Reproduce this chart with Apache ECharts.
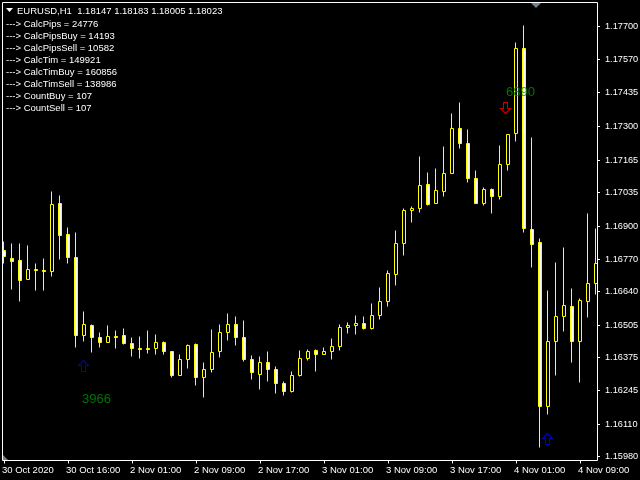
<!DOCTYPE html>
<html><head><meta charset="utf-8">
<style>html,body{margin:0;padding:0;background:#000}#c{width:640px;height:480px}</style>
<script src="https://cdn.jsdelivr.net/npm/echarts@6/dist/echarts.min.js"></script>
</head><body><div id="c"></div>
<script>
const headerText = "EURUSD,H1  1.18147 1.18183 1.18005 1.18023";
const infoLines = ["---> CalcPips = 24776","---> CalcPipsBuy = 14193","---> CalcPipsSell = 10582","---> CalcTim = 149921","---> CalcTimBuy = 160856","---> CalcTimSell = 138986","---> CountBuy = 107","---> CountSell = 107"];
const tickLabels = ["30 Oct 2020","30 Oct 16:00","2 Nov 01:00","2 Nov 09:00","2 Nov 17:00","3 Nov 01:00","3 Nov 09:00","3 Nov 17:00","4 Nov 01:00","4 Nov 09:00"];
const priceTicks = [1.17700,1.17570,1.17435,1.17300,1.17165,1.17035,1.16900,1.16770,1.16640,1.16505,1.16375,1.16245,1.16110,1.15980];
const opens = [1.16804,1.16772,1.16764,1.16688,1.16728,1.16724,1.16720,1.16992,1.16868,1.16776,1.16464,1.16504,1.16456,1.16436,1.16460,1.16464,1.16432,1.16412,1.16412,1.16412,1.16436,1.16400,1.16304,1.16368,1.16428,1.16296,1.16328,1.16400,1.16476,1.16508,1.16456,1.16368,1.16308,1.16356,1.16328,1.16272,1.16240,1.16304,1.16372,1.16404,1.16388,1.16400,1.16420,1.16496,1.16504,1.16512,1.16492,1.16544,1.16600,1.16708,1.16832,1.16964,1.16972,1.17068,1.16992,1.17040,1.17112,1.17292,1.17232,1.17092,1.16992,1.17048,1.17020,1.17148,1.17272,1.17612,1.16888,1.16836,1.16180,1.16440,1.16540,1.16580,1.16440,1.16600,1.16672];
const closes = [1.16780,1.16760,1.16684,1.16728,1.16724,1.16720,1.16988,1.16864,1.16776,1.16464,1.16508,1.16456,1.16436,1.16460,1.16456,1.16432,1.16412,1.16408,1.16408,1.16436,1.16400,1.16304,1.16368,1.16424,1.16296,1.16328,1.16396,1.16476,1.16508,1.16456,1.16368,1.16316,1.16356,1.16328,1.16272,1.16240,1.16304,1.16372,1.16400,1.16388,1.16400,1.16420,1.16496,1.16504,1.16512,1.16492,1.16544,1.16600,1.16712,1.16832,1.16964,1.16972,1.17064,1.16988,1.17044,1.17112,1.17292,1.17232,1.17092,1.16992,1.17048,1.17020,1.17148,1.17268,1.17612,1.16892,1.16828,1.16180,1.16440,1.16540,1.16584,1.16440,1.16604,1.16672,1.16752];
const lows = [1.16752,1.16648,1.16600,1.16688,1.16644,1.16644,1.16700,1.16768,1.16752,1.16416,1.16440,1.16396,1.16416,1.16436,1.16412,1.16428,1.16380,1.16372,1.16392,1.16388,1.16388,1.16296,1.16304,1.16332,1.16264,1.16216,1.16316,1.16376,1.16444,1.16424,1.16360,1.16288,1.16248,1.16280,1.16232,1.16224,1.16236,1.16300,1.16364,1.16320,1.16388,1.16368,1.16404,1.16472,1.16468,1.16488,1.16488,1.16528,1.16580,1.16664,1.16784,1.16916,1.16956,1.16984,1.16992,1.17020,1.17112,1.17212,1.17076,1.16992,1.16984,1.16952,1.17008,1.17124,1.17240,1.16876,1.16736,1.16016,1.16148,1.16304,1.16480,1.16356,1.16276,1.16536,1.16628];
const highs = [1.16840,1.16832,1.16832,1.16824,1.16752,1.16772,1.17040,1.17024,1.16896,1.16876,1.16560,1.16508,1.16476,1.16504,1.16484,1.16492,1.16456,1.16460,1.16484,1.16468,1.16440,1.16400,1.16388,1.16428,1.16432,1.16356,1.16488,1.16508,1.16552,1.16540,1.16524,1.16384,1.16380,1.16400,1.16340,1.16280,1.16320,1.16404,1.16408,1.16408,1.16416,1.16452,1.16508,1.16516,1.16544,1.16540,1.16592,1.16656,1.16724,1.16884,1.16972,1.16980,1.17180,1.17116,1.17132,1.17220,1.17352,1.17396,1.17288,1.17124,1.17056,1.17052,1.17224,1.17268,1.17636,1.17704,1.17256,1.16852,1.16644,1.16756,1.16816,1.16652,1.16612,1.16952,1.16892];
const arrowUpDim = [[10,1.16342]];
const arrowUpBlue = [[68,1.16050]];
const arrowDown = [[63,1.17374]];
const notes = [[12,1.16208,"3966"],[65,1.17438,"6890"]];

const categories = opens.map((_, i) => i % 8 === 0 ? tickLabels[i / 8] : "");
const UP = 'path://M5,0 L10,5 L7,5 L7,11 L3,11 L3,5 L0,5 Z';
const DOWN = 'path://M3,0 L7,0 L7,6 L10,6 L5,11 L0,6 L3,6 Z';
const font = 'Liberation Sans';
const chart = echarts.init(document.getElementById('c'), null, {renderer:'canvas'});
const arrow = (d, sym, col, off) => ({type:'scatter', data:d, symbol:sym, symbolSize:[10,11], symbolOffset:off, z:6,
  itemStyle:{color:'rgba(0,0,0,0)', borderColor:col, borderWidth:1}, silent:true, animation:false});
chart.setOption({
  animation:false,
  backgroundColor:'#000',
  grid:{left:0, width:600, top:2.5, height:458, containLabel:false, outerBoundsMode:'none'},
  xAxis:{type:'category', data:categories, boundaryGap:true,
    axisLine:{show:false},
    axisTick:{show:true, alignWithLabel:true, interval:7, length:3, lineStyle:{color:'#fff',width:1}},
    splitLine:{show:false},
    axisLabel:{interval:7, color:'#fff', fontFamily:font, fontSize:9.5, align:'left', margin:5, padding:[0,0,0,-2], hideOverlap:false},
    z:10},
  yAxis:{type:'value', position:'right', offset:-3, min:1.15964, max:1.17796, scale:true,
    axisLine:{show:false},
    axisTick:{show:true, length:3, customValues:priceTicks, lineStyle:{color:'#fff',width:1}},
    splitLine:{show:false},
    axisLabel:{customValues:priceTicks, color:'#fff', fontFamily:font, fontSize:9.2, margin:8, padding:[3,0,0,0], formatter:v=>v.toFixed(5)},
    z:10},
  series:[
    {type:'candlestick', barWidth:4, clip:false, z:3, silent:true,
     data:opens.map((o,i)=>[o,closes[i],lows[i],highs[i]]),
     itemStyle:{color:'#000', color0:'#fff', borderColor:'#ffff00', borderColor0:'#ffff00', borderColorDoji:'#ffff00', borderWidth:1}},
    arrow(arrowUpDim, UP, '#0000ff', [-0.5,0]),
    arrow(arrowUpBlue, UP, '#0000ff', [-0.5,0]),
    arrow(arrowDown, DOWN, '#ff0000', [-2.5,0]),
    {type:'scatter', symbolSize:0, z:7, silent:true, data:notes.map(n=>({value:[n[0],n[1]], name:n[2]})),
     label:{show:true, position:'inside', formatter:p=>p.name, color:'#009000', fontFamily:font, fontSize:13, offset:[-3.5,0]}}
  ],
  graphic:[
    {type:'rect', z:5, silent:true, shape:{x:0,y:2,width:2,height:458}, style:{fill:'#000'}},
    {type:'rect', z:5, silent:true, shape:{x:598,y:2,width:1,height:458}, style:{fill:'#000'}},
    {type:'rect', z:8, silent:true, shape:{x:2.5,y:2.5,width:595,height:458}, style:{fill:'none',stroke:'#fff',lineWidth:1}},
    {type:'polygon', z:9, silent:true, shape:{points:[[531,3],[541,3],[536,8]]}, style:{fill:'#708090'}},
    {type:'polygon', z:9, silent:true, shape:{points:[[3,455],[3,460],[8,460]]}, style:{fill:'#708090'}},
    {type:'polygon', z:9, silent:true, shape:{points:[[6,8],[13,8],[9.5,12]]}, style:{fill:'#fff'}},
    {type:'text', z:9, silent:true, style:{x:17,y:11,text:headerText,fill:'#fff',font:'9.5px '+font,textVerticalAlign:'middle'}},
    ...infoLines.map((t,i)=>({type:'text', z:9, silent:true, style:{x:6,y:24.5+12*i,text:t,fill:'#fff',font:'9.5px '+font,textVerticalAlign:'middle'}}))
  ]
});
</script></body></html>
